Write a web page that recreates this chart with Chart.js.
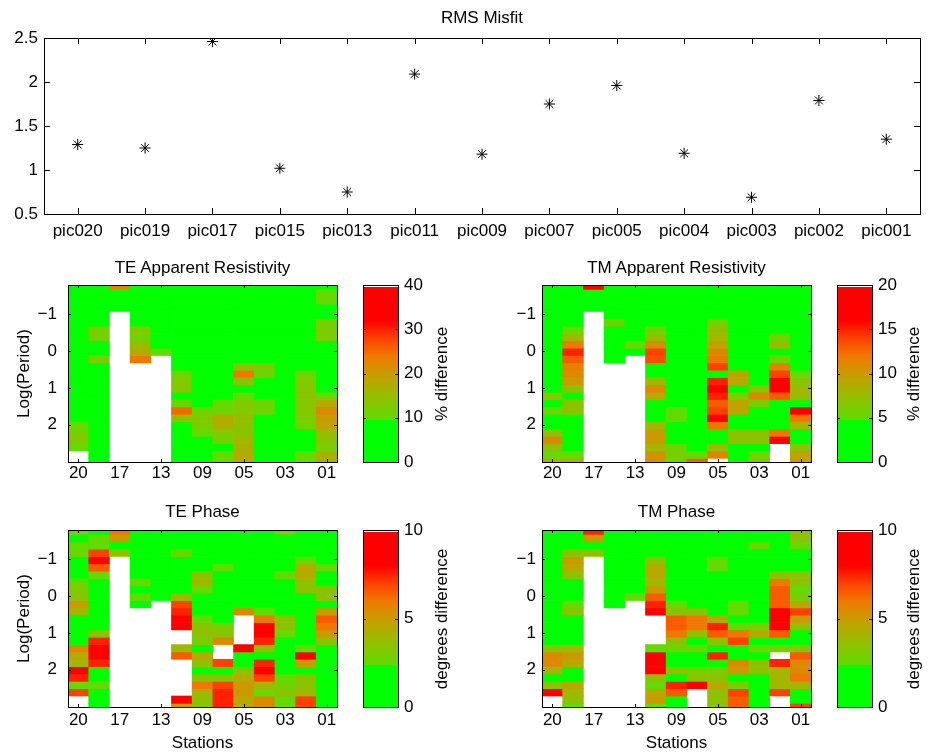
<!DOCTYPE html>
<html>
<head>
<meta charset="utf-8">
<title>RMS Misfit</title>
<script src="https://cdn.jsdelivr.net/npm/chart.js@4.4.0/dist/chart.umd.min.js"></script>
<style>
  body { margin: 0; background: #fff; }
  #page { position: relative; width: 932px; height: 754px; overflow: hidden;
          font-family: "Liberation Sans", Arial, Helvetica, sans-serif; color: #000; }
  #page canvas { position: absolute; }
  .lbl { position: absolute; font-size: 17px; line-height: 20px; white-space: nowrap;
         transform: translate(-50%, -50%); }
  .vlbl { transform: translate(-50%, -50%) rotate(-90deg); }
</style>
</head>
<body>
<div id="page">
  <canvas id="rms" width="932" height="250" style="left:0;top:0"></canvas>
  <canvas id="teRho" width="350" height="225" style="left:0;top:260px"></canvas>
  <canvas id="teRhoBar" width="120" height="222" style="left:350px;top:260px"></canvas>
  <canvas id="tmRho" width="340" height="225" style="left:480px;top:260px"></canvas>
  <canvas id="tmRhoBar" width="107" height="222" style="left:825px;top:260px"></canvas>
  <canvas id="tePhs" width="350" height="249" style="left:0;top:505px"></canvas>
  <canvas id="tePhsBar" width="120" height="222" style="left:350px;top:505px"></canvas>
  <canvas id="tmPhs" width="340" height="249" style="left:480px;top:505px"></canvas>
  <canvas id="tmPhsBar" width="107" height="222" style="left:825px;top:505px"></canvas>

  <div class="lbl" style="left:482px;top:18px">RMS Misfit</div>
  <div class="lbl" style="left:202.5px;top:268px">TE Apparent Resistivity</div>
  <div class="lbl" style="left:676.5px;top:268px">TM Apparent Resistivity</div>
  <div class="lbl" style="left:202.5px;top:512px">TE Phase</div>
  <div class="lbl" style="left:676.5px;top:512px">TM Phase</div>
  <div class="lbl vlbl" style="left:442px;top:373.5px">% difference</div>
  <div class="lbl vlbl" style="left:914px;top:373.5px">% difference</div>
  <div class="lbl vlbl" style="left:442px;top:618.5px">degrees difference</div>
  <div class="lbl vlbl" style="left:914px;top:618.5px">degrees difference</div>
</div>

<script>
// stations, west to east
const stations = ['pic020', 'pic019', 'pic017', 'pic015', 'pic013', 'pic011', 'pic009',
  'pic007', 'pic005', 'pic004', 'pic003', 'pic002', 'pic001'];
const stationTicks = ['20', '19', '17', '15', '13', '11', '09', '07', '05', '04', '03', '02', '01'];

// RMS misfit per station
const rmsMisfit = [1.29, 1.25, 2.46, 1.02, 0.75, 2.09, 1.18, 1.75, 1.96, 1.19, 0.69, 1.79, 1.35];
const rmsTicks = [0.5, 1, 1.5, 2, 2.5];

// log10(period) of each row of the difference maps
const logPeriods = [-1.78, -1.58, -1.38, -1.18, -0.98, -0.78, -0.58, -0.38, -0.18, 0.02,
  0.22, 0.42, 0.62, 0.82, 1.02, 1.22, 1.42, 1.62, 1.82, 2.02, 2.22, 2.42, 2.62, 2.82, 3.02];
const periodTicks = [-1, 0, 1, 2];

// % difference, TE apparent resistivity (rows = periods, columns = stations, null = no data)
const teRhoDiff = [
  [3, 3, 22, 3, 2, 3, 2, 3, 3, 2, 3, 3, 4],
  [3, 2, 4, 3, 3, 2, 3, 2, 3, 3, 2, 3, 10],
  [4, 3, 3, 2, 3, 2, 3, 3, 2, 3, 3, 2, 10],
  [4, 4, 3, 3, 2, 3, 2, 3, 3, 2, 3, 3, 7],
  [6, 4, null, 3, 3, 2, 3, 3, 3, 2, 3, 3, 5],
  [5, 5, null, 4, 3, 3, 3, 2, 3, 3, 2, 4, 12],
  [4, 12, null, 13, 3, 3, 3, 3, 2, 3, 3, 4, 12],
  [3, 11, null, 11, 3, 3, 3, 3, 3, 3, 2, 3, 12],
  [3, 7, null, 15, 4, 3, 4, 3, 3, 3, 3, 3, 6],
  [3, 6, null, 18, 10, 3, 5, 5, 3, 3, 3, 3, 4],
  [3, 12, null, 24, null, 3, 5, 4, 3, 3, 3, 3, 4],
  [3, 4, null, null, null, 4, 3, 3, 14, 12, 3, 4, 4],
  [4, 3, null, null, null, 11, 3, 3, 24, 11, 3, 11, 4],
  [7, 3, null, null, null, 13, 3, 3, 14, 3, 3, 13, 3],
  [8, 3, null, null, null, 13, 3, 3, 5, 3, 3, 13, 3],
  [4, 3, null, null, null, 5, 3, 3, 10, 4, 3, 14, 11],
  [3, 3, null, null, null, 11, 4, 10, 13, 11, 3, 13, 18],
  [3, 3, null, null, null, 25, 11, 11, 13, 11, 3, 13, 22],
  [4, 3, null, null, null, 14, 13, 18, 15, 4, 3, 12, 20],
  [10, 3, null, null, null, 4, 12, 17, 14, 3, 3, 11, 19],
  [12, 3, null, null, null, 3, 10, 13, 14, 3, 3, 5, 15],
  [13, 3, null, null, null, 3, 6, 11, 16, 3, 3, 4, 14],
  [10, 3, null, null, null, 3, 4, 7, 17, 3, 3, 4, 12],
  [null, 3, null, null, null, 3, 4, 10, 18, 3, 3, 10, 17],
  [null, 3, null, null, null, 3, 4, 10, 18, 3, 3, 10, 17]
];

// % difference, TM apparent resistivity
const tmRhoDiff = [
  [1, 1, 16, 1, 1, 1, 1, 1, 1, 1, 1, 1, 1],
  [1, 1, 2, 1, 1, 1, 1, 1, 1, 1, 1, 1, 1],
  [1, 1, 2, 1, 1, 1, 1, 1, 1, 1, 1, 1, 1],
  [1, 1, 2, 1, 1, 1, 1, 1, 1, 1, 1, 1, 1],
  [1, 1, null, 1, 1, 1, 1, 1, 1, 1, 1, 1, 1],
  [1, 1, null, 5.5, 1, 1, 1, 1, 6, 1, 1, 1, 1],
  [1, 5, null, 1, 1, 5.5, 1, 1, 7.5, 1, 1, 1, 1],
  [1, 8, null, 1, 1, 7.5, 1, 1, 8, 1, 1, 5.5, 1],
  [1, 12, null, 1, 5, 11, 1, 1, 9.5, 1, 1, 7.5, 1],
  [1, 15, null, 1, 1, 14, 1, 1, 11, 1, 1, 1, 1],
  [1, 13, null, 1, null, 13.5, 1, 1, 12, 1, 1, 5.5, 4.5],
  [1, 11.5, null, null, null, 1, 1, 1, 14, 1, 1, 11.5, 4],
  [1, 11, null, null, null, 1, 1, 1, 1, 9.5, 1, 14, 5],
  [1, 10, null, null, null, 8, 1, 1, 15, 9, 1, 17, 7],
  [1, 7, null, null, null, 11, 1, 1, 17, 1, 7, 17, 8],
  [6.5, 1, null, null, null, 9, 1, 1, 15, 6, 11, 13, 7.5],
  [2, 7, null, null, null, 1, 2, 2, 13, 9.5, 6, 1, 3],
  [5, 7, null, null, null, 1, 5, 1, 14, 9.5, 1, 1, 18],
  [1, 1, null, null, null, 1, 5, 1, 16, 1, 1, 1, 12],
  [1, 1, null, null, null, 8, 1, 1, 12, 1, 1, 1, 8],
  [7, 1, null, null, null, 10, 1, 1, 1, 7, 7, 12, 1],
  [11, 1, null, null, null, 10, 1, 1, 1, 7, 7, 17, 1],
  [7, 1, null, null, null, 8, 5.5, 1, 7.5, 1, 1, null, 7],
  [5, 5, null, null, null, 10.5, 6, 5, 11.5, 1, 5.5, null, 9.5],
  [9, 9, null, null, null, 10.5, 5, 13, null, 1, 7, null, 10]
];

// degrees difference, TE phase
const tePhaseDiff = [
  [2.5, 1, 6, 1, 1, 1, 1, 1, 1, 1, 2.5, 1, 1],
  [1, 2.5, 5, 1, 1, 1, 1, 1, 1, 1, 1, 1, 1],
  [2.4, 2.5, 1, 1, 1, 1, 1, 1, 1, 1, 1, 1, 1],
  [2.6, 7, 3.5, 1, 1, 2.6, 1, 1, 1, 1, 1, 2.3, 1],
  [2.3, 8.5, null, 1, 1, 1, 1, 1, 1, 1, 1, 2.5, 1],
  [1, 6.5, null, 2.3, 1, 1, 1, 2.4, 1, 1, 1, 4.5, 2.5],
  [1, 2.5, null, 1, 1, 1, 3.5, 1, 1, 1, 2.5, 4.5, 1],
  [2.6, 1, null, 2.5, 1, 1, 4, 1, 1, 1, 1, 3.5, 1],
  [3.2, 1, null, 1, 2.3, 2.3, 2.5, 1, 1, 1, 1, 3.5, 3.5],
  [3.5, 1, null, 2.5, 1, 4, 1, 1, 1, 1, 1, 1, 3.5],
  [5, 1, null, 1, null, 7, 1, 1, 1, 1, 1, 1, 1],
  [4, 1, null, null, null, 7.5, 1, 1, 5.5, 2.5, 1.5, 1, 5],
  [1, 1, null, null, null, 9, 2.5, 1, null, 6, 3.5, 1, 6.5],
  [1, 1, null, null, null, 9, 3.5, 3, null, 8.5, 3.5, 1, 6],
  [1, 3.5, null, null, null, null, 3.5, 3.5, null, 8.5, 2.5, 1, 5],
  [1, 7.5, null, null, null, null, 3, 5.5, null, 7.5, 1, 1, 3.5],
  [5.5, 9, null, null, null, 4, 1, null, 8.5, 3.5, 1, 2.5, 1],
  [4.5, 9, null, null, null, 6.5, 4.5, null, 1, 1, 1, 9, 1],
  [4, 7.5, null, null, null, null, 3.5, 7, 1, 7.5, 1, 5, 1],
  [8.5, 1, null, null, null, null, 1, 1, 3.5, 8, 1, 1, 1],
  [7.5, 1, null, null, null, null, 3.5, 3.5, 4.5, 7, 2.5, 3.5, 1],
  [2.5, 2.5, null, null, null, null, 6, 7, 5, 4, 2.8, 3.5, 1],
  [7, 1, null, null, null, null, 4, 7.5, 5, 2.5, 3.5, 4, 1],
  [null, 1, null, null, null, 8.5, 3.5, 7.5, 4.5, 5.5, 2.5, 7, 1],
  [null, 1, null, null, null, 5, 3.5, 7.5, 4.5, 5.5, 2.5, 7, 1]
];

// degrees difference, TM phase
const tmPhaseDiff = [
  [1, 1, 7.5, 1, 1, 1, 1, 1, 1, 1, 1, 1, 3.5],
  [1, 1, 5, 2.3, 1, 1, 1, 1, 1, 1.5, 1, 1, 3.5],
  [1.5, 1, 1, 1, 1, 1, 1, 1, 1, 1, 2.5, 1, 2.5],
  [1, 3.5, 3.5, 1, 1, 1, 1, 1, 1, 1, 1, 1, 1],
  [1, 5, null, 1, 1, 3.5, 1, 1, 2.5, 1, 1, 1, 1],
  [1, 4.5, null, 1, 1, 4.5, 1, 1, 2.5, 1, 1, 1, 1],
  [1, 3.5, null, 1, 1, 4.5, 1, 1, 1, 1, 1, 3.5, 3.5],
  [1, 1, null, 1, 1, 4, 1, 1, 1, 1, 1, 6, 3.5],
  [1, 1, null, 1, 1, 5, 1, 1, 1, 1, 1, 6.5, 2.5],
  [1, 1, null, 1, 2.5, 6.5, 1, 1, 1, 1, 1, 6.5, 3],
  [1, 2.5, null, 1, null, 7.5, 2.5, 1, 1, 2.5, 1, 6.5, 4.5],
  [1, 3.5, null, null, null, 9, 3.5, 3.5, 1, 2.5, 1, 8.5, 7],
  [1, 1, null, null, null, null, 6.5, 6, 4.5, 1, 1, 9, 5],
  [1, 1, null, null, null, null, 6.5, 6, 7.5, 2.5, 3, 8.5, 3.5],
  [1, 1, null, null, null, null, 6, 3.5, 6.5, 6, 4.5, 6.5, 1],
  [1, 1, null, null, null, null, 3.5, 1, 3.5, 7, 1, 1, 1],
  [3.5, 4, null, null, null, 2.5, 2.5, 2.5, 1, 1, 2.5, 3, 3.5],
  [5.5, 5, null, null, null, 9, 1, 1, 7.5, 1, 1, null, 6.5],
  [5.5, 4.5, null, null, null, 9, 1, 1, 1, 5.5, 3.5, 7.5, 5.5],
  [4, 1, null, null, null, 8.5, 3.5, 3, 3, 5, 3.5, 4, 5.5],
  [1, 1, null, null, null, 3.5, 1, 3.5, 3.5, 1, 1, 4, 6],
  [3.5, 4.5, null, null, null, 2.5, 7.5, 8.5, 4.5, 3, 1, 4, 4],
  [9, 4, null, null, null, 4.5, 6.5, null, 3.5, 7, 1, 7, 1],
  [null, 3.5, null, null, null, 5, 1, null, 3.5, 6.5, 1, null, 1],
  [null, 2.5, null, null, null, 2.5, 1, null, 3.5, 6.5, 1, null, 7]
];

// colour bar ticks
const teRhoTicks = [0, 10, 20, 30, 40];
const tmRhoTicks = [0, 5, 10, 15, 20];
const phaseTicks = [0, 5, 10];

// green -> olive -> orange -> red colour map
const cmapStops = [0, 0.235, 0.24, 0.35, 0.47, 0.6, 0.7, 0.8, 1];
const cmapR = [0, 0, 95, 140, 190, 240, 255, 255, 255];
const cmapG = [255, 255, 220, 195, 165, 120, 65, 0, 0];

const ROW_HALF = 0.1;
const FONT = '"Liberation Sans", Arial, Helvetica, sans-serif';

Chart.defaults.font.family = FONT;
Chart.defaults.font.size = 17;
Chart.defaults.color = '#000';

function cmapColor(f) {
  f = Math.max(0, Math.min(1, f));
  let i = 0;
  while (i < cmapStops.length - 2 && f > cmapStops[i + 1]) i++;
  const t = (f - cmapStops[i]) / (cmapStops[i + 1] - cmapStops[i]);
  const r = Math.round(cmapR[i] + t * (cmapR[i + 1] - cmapR[i]));
  const g = Math.round(cmapG[i] + t * (cmapG[i + 1] - cmapG[i]));
  return 'rgb(' + r + ',' + g + ',0)';
}

// box round the plot area with inward tick marks on every side
const framePlugin = {
  id: 'frame',
  afterDraw(chart, args, opts) {
    const { ctx, chartArea: a, scales } = chart;
    const len = opts.tickLen || 4;
    ctx.save();
    ctx.strokeStyle = '#000';
    ctx.lineWidth = 1;
    ctx.beginPath();
    if (opts.xStep) {
      scales.x.ticks.forEach((t, i) => {
        if (i % opts.xStep) return;
        const px = Math.round(scales.x.getPixelForTick(i)) + 0.5;
        ctx.moveTo(px, a.bottom); ctx.lineTo(px, a.bottom - len);
        ctx.moveTo(px, a.top); ctx.lineTo(px, a.top + len);
      });
    }
    scales.y.ticks.forEach(t => {
      const py = Math.round(scales.y.getPixelForValue(t.value)) + 0.5;
      ctx.moveTo(a.left, py); ctx.lineTo(a.left + len, py);
      ctx.moveTo(a.right, py); ctx.lineTo(a.right - len, py);
    });
    ctx.stroke();
    ctx.strokeRect(Math.round(a.left) + 0.5, Math.round(a.top) + 0.5,
      Math.round(a.right - a.left), Math.round(a.bottom - a.top));
    ctx.restore();
  }
};

function fixWidth(w) { return scale => { scale.width = w; }; }
function fixHeight(h) { return scale => { scale.height = h; }; }
function setTicks(list) { return scale => { scale.ticks = list.map(v => ({ value: v })); }; }
const noGrid = { display: false, drawTicks: false };

// RMS misfit
new Chart(document.getElementById('rms'), {
  type: 'line',
  data: {
    labels: stations,
    datasets: [{
      data: rmsMisfit,
      showLine: false,
      pointStyle: 'star',
      pointRadius: 5.5,
      borderColor: '#000',
      backgroundColor: '#000',
      pointBorderWidth: 1
    }]
  },
  options: {
    responsive: false,
    animation: false,
    events: [],
    layout: { padding: { left: 0, right: 12, top: 38, bottom: 0 } },
    plugins: { legend: { display: false }, tooltip: { enabled: false },
      frame: { tickLen: 6, xStep: 1 } },
    scales: {
      x: {
        offset: true,
        grid: noGrid, border: { display: false },
        ticks: { autoSkip: false, maxRotation: 0, padding: 7 },
        afterFit: fixHeight(36)
      },
      y: {
        min: 0.5, max: 2.5,
        grid: noGrid, border: { display: false },
        ticks: { padding: 6, callback: v => String(v) },
        afterBuildTicks: setTicks(rmsTicks),
        afterFit: fixWidth(44)
      }
    }
  },
  plugins: [framePlugin]
});

// one floating bar per period row and station
function heatmapDatasets(grid, vmax) {
  return logPeriods.map((p, r) => ({
    data: grid[r].map(v => (v === null ? null : [p - ROW_HALF, p + ROW_HALF])),
    backgroundColor: grid[r].map(v => (v === null ? 'rgba(0,0,0,0)' : cmapColor(v / vmax))),
    borderWidth: 0,
    grouped: false,
    barPercentage: 1,
    categoryPercentage: 1
  }));
}

function drawHeatmap(id, grid, vmax, o) {
  new Chart(document.getElementById(id), {
    type: 'bar',
    data: { labels: stationTicks, datasets: heatmapDatasets(grid, vmax) },
    options: {
      responsive: false,
      animation: false,
      events: [],
      layout: { padding: { left: 0, right: o.padRight, top: 25, bottom: 0 } },
      plugins: { legend: { display: false }, tooltip: { enabled: false },
        frame: { tickLen: 3, xStep: 2 } },
      scales: {
        x: {
          grid: noGrid, border: { display: false },
          ticks: {
            autoSkip: false, maxRotation: 0, padding: o.xPad,
            callback(v, i) { return i % 2 ? null : stationTicks[i]; }
          },
          title: { display: !!o.xTitle, text: 'Stations', padding: { top: 0, bottom: 0 } },
          afterFit: fixHeight(o.xHeight)
        },
        y: {
          type: 'linear',
          min: -1.8, max: 3.02,
          reverse: true,
          grid: noGrid, border: { display: false },
          ticks: {
            padding: o.yPad,
            callback(v) { return v < 0 ? '\u2212' + Math.abs(v) : String(v); }
          },
          title: { display: !!o.yTitle, text: 'Log(Period)', padding: { top: 14, bottom: 0 } },
          afterBuildTicks: setTicks(periodTicks),
          afterFit: fixWidth(o.yWidth)
        }
      }
    },
    plugins: [framePlugin]
  });
}

// colour scale as a single bar filled with the colour map
function drawColorbar(id, vmax, ticks, o) {
  new Chart(document.getElementById(id), {
    type: 'bar',
    data: {
      labels: [''],
      datasets: [{
        data: [[0, vmax]],
        borderWidth: 0,
        barPercentage: 1,
        categoryPercentage: 1,
        backgroundColor(c) {
          const chart = c.chart;
          const y = chart.scales.y;
          if (!chart.chartArea || !y) return '#0f0';
          const g = chart.ctx.createLinearGradient(0, y.getPixelForValue(0), 0, y.getPixelForValue(vmax));
          cmapStops.forEach((s, i) => {
            if (s < 1) g.addColorStop(s, 'rgb(' + cmapR[i] + ',' + cmapG[i] + ',0)');
          });
          g.addColorStop(0.988, 'rgb(255,0,0)');
          g.addColorStop(0.99, '#fff');
          g.addColorStop(1, '#fff');
          return g;
        }
      }]
    },
    options: {
      responsive: false,
      animation: false,
      events: [],
      layout: { padding: { left: o.padLeft, right: 0, top: 25, bottom: 20 } },
      plugins: { legend: { display: false }, tooltip: { enabled: false },
        frame: { tickLen: 3, xStep: 0 } },
      scales: {
        x: { display: false },
        y: {
          position: 'right',
          min: 0, max: vmax,
          grid: noGrid, border: { display: false },
          ticks: { padding: 6 },
          afterBuildTicks: setTicks(ticks),
          afterFit: fixWidth(o.width)
        }
      }
    },
    plugins: [framePlugin]
  });
}

drawHeatmap('teRho', teRhoDiff, 40, { yWidth: 68, padRight: 13, xHeight: 23, xPad: 1, yPad: 11, yTitle: true });
drawHeatmap('tmRho', tmRhoDiff, 20, { yWidth: 62, padRight: 9, xHeight: 23, xPad: 1, yPad: 6 });
drawHeatmap('tePhs', tePhaseDiff, 10, { yWidth: 68, padRight: 13, xHeight: 47, xPad: 3, yPad: 11, yTitle: true, xTitle: true });
drawHeatmap('tmPhs', tmPhaseDiff, 10, { yWidth: 62, padRight: 9, xHeight: 47, xPad: 3, yPad: 6, xTitle: true });

drawColorbar('teRhoBar', 40, teRhoTicks, { padLeft: 13, width: 72 });
drawColorbar('tmRhoBar', 20, tmRhoTicks, { padLeft: 12, width: 60 });
drawColorbar('tePhsBar', 10, phaseTicks, { padLeft: 13, width: 72 });
drawColorbar('tmPhsBar', 10, phaseTicks, { padLeft: 12, width: 60 });
</script>
</body>
</html>
